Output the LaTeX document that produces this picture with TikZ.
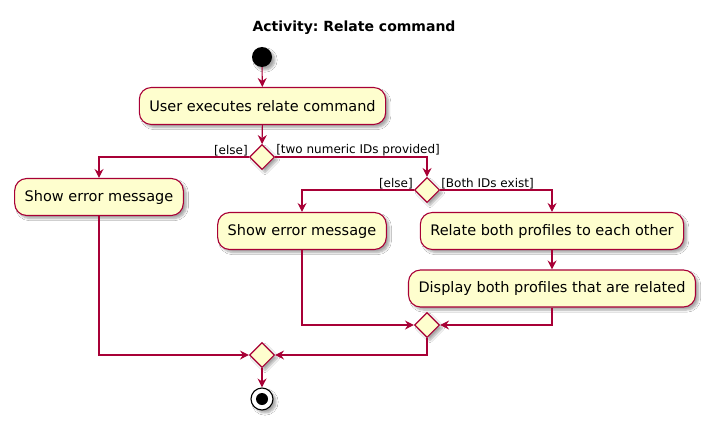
\documentclass[tikz,border=0pt]{standalone}
\usepackage{fontspec}
\setmainfont{DejaVu Sans}
\usetikzlibrary{arrows.meta,shapes.geometric,shadows.blur}
\definecolor{actfill}{HTML}{FEFECE}
\definecolor{actline}{HTML}{A80036}
\frenchspacing

\begin{document}
\begin{tikzpicture}[x=1pt, y=-1pt,
	shade/.style={blur shadow={shadow xshift=3pt, shadow yshift=-3pt, shadow blur steps=6, shadow opacity=35}},
	act/.style={draw=actline, fill=actfill, line width=1.1pt, rounded corners=12pt, minimum height=37pt, inner xsep=10pt, font=\fontsize{14.5}{17}\selectfont, shade},
	branch/.style={diamond, draw=actline, fill=actfill, line width=1.1pt, minimum size=25pt, inner sep=0pt, shade},
	flow/.style={draw=actline, line width=1.1pt, -{Stealth[length=9pt, width=9pt, inset=3pt]}},
	guard/.style={font=\fontsize{12}{14}\selectfont, inner sep=1pt},
]
	\fill[white] (0, 0) rectangle (711, 425);
	\useasboundingbox (0, 0) rectangle (711, 425);

	\node[font=\bfseries\fontsize{14}{17}\selectfont] (title) at (354, 28) {Activity: Relate command};

	\node[circle, fill=black, minimum size=20pt, inner sep=0pt, shade] (start) at (262, 57) {};
	\node[act] (user) at (262.5, 106) {User executes relate command};
	\node[branch] (numeric) at (262, 157) {};
	\node[act] (errleft) at (99, 197) {Show error message};
	\node[branch] (exist) at (427, 190) {};
	\node[act] (errright) at (302, 231) {Show error message};
	\node[act] (relate) at (552, 231) {Relate both profiles to each other};
	\node[act] (display) at (552, 288.5) {Display both profiles that are related};
	\node[branch] (mergeright) at (427, 325) {};
	\node[branch] (mergeleft) at (262, 355) {};
	\node[circle, draw=black, fill=white, line width=1.1pt, minimum size=22pt, inner sep=0pt, shade,
		path picture={\fill[black] (path picture bounding box.center) circle (6pt);}] (stop) at (262, 399) {};

	\draw[flow] (start) -- (user);
	\draw[flow] (user) -- (numeric);
	\draw[flow] (numeric.west) -| (errleft.north);
	\node[guard, anchor=south east] at (numeric.west) {[else]};
	\draw[flow] (numeric.east) -| (exist.north);
	\node[guard, anchor=south west] at (numeric.east) {[two numeric IDs provided]};
	\draw[flow] (exist.west) -| (errright.north);
	\node[guard, anchor=south east] at (exist.west) {[else]};
	\draw[flow] (exist.east) -| (relate.north);
	\node[guard, anchor=south west] at (exist.east) {[Both IDs exist]};
	\draw[flow] (relate) -- (display);
	\draw[flow] (errright.south) |- (mergeright.west);
	\draw[flow] (display.south) |- (mergeright.east);
	\draw[flow] (errleft.south) |- (mergeleft.west);
	\draw[flow] (mergeright.south) |- (mergeleft.east);
	\draw[flow] (mergeleft) -- (stop);
\end{tikzpicture}
\end{document}
